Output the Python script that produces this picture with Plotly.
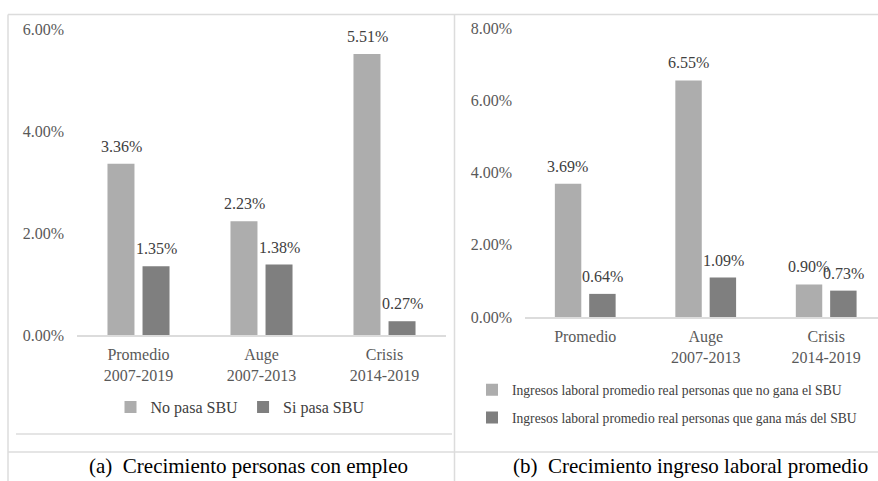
import plotly.graph_objects as go

# panel (a): crecimiento personas con empleo
CATS_A = ["Promedio<br>2007-2019", "Auge<br>2007-2013", "Crisis<br>2014-2019"]
NO_PASA = [3.36, 2.23, 5.51]
SI_PASA = [1.35, 1.38, 0.27]

# panel (b): crecimiento ingreso laboral promedio
CATS_B = ["Promedio", "Auge<br>2007-2013", "Crisis<br>2014-2019"]
NO_GANA = [3.69, 6.55, 0.90]
GANA_MAS = [0.64, 1.09, 0.73]

TICKS_A = [0, 2, 4, 6]
TICKS_B = [0, 2, 4, 6, 8]

LIGHT = "#ADADAD"
DARK = "#7F7F7F"
LINE = "#DCDCDC"
SERIF = "Liberation Serif, Times New Roman, serif"
W, H = 878, 481
BAR_SHIFT = 17.5  # px from category centre to each bar's centre


def px(x):
    return x / W


def py(y):
    return 1 - y / H


def bar(x, y, color, name, xa, ya, legend, group):
    return go.Bar(
        x=x, y=y, name=name, marker=dict(color=color, line=dict(width=0)),
        xaxis=xa, yaxis=ya, legend=legend, legendgroup=group,
        hovertemplate="%{y:.2f}%<extra></extra>",
    )


fig = go.Figure()
fig.add_trace(bar(CATS_A, NO_PASA, LIGHT, "No pasa SBU", "x", "y", "legend", "a1"))
fig.add_trace(bar(CATS_A, SI_PASA, DARK, "Si pasa SBU", "x", "y", "legend", "a2"))
fig.add_trace(bar(CATS_B, NO_GANA, LIGHT,
                  "Ingresos laboral promedio real personas que no gana el SBU",
                  "x2", "y2", "legend2", "b1"))
fig.add_trace(bar(CATS_B, GANA_MAS, DARK,
                  "Ingresos laboral promedio real personas que gana más del SBU",
                  "x2", "y2", "legend2", "b2"))

# value labels sit a little higher above the bars than plotly's own outside text
for cats, light, dark, xr, yr in ((CATS_A, NO_PASA, SI_PASA, "x", "y"),
                                  (CATS_B, NO_GANA, GANA_MAS, "x2", "y2")):
    for vals, shift in ((light, -BAR_SHIFT), (dark, BAR_SHIFT)):
        for c, v in zip(cats, vals):
            fig.add_annotation(x=c, y=v, xref=xr, yref=yr, text=f"{v:.2f}%",
                               showarrow=False, xshift=shift, yshift=7,
                               yanchor="bottom",
                               font=dict(family=SERIF, size=16, color="#404040"))

tickfont = dict(family=SERIF, size=16, color="#595959")
xcommon = dict(showline=True, linecolor=LINE, linewidth=1.5, ticks="",
               tickfont=tickfont, showgrid=False, zeroline=False,
               ticklabelstandoff=4, fixedrange=True)
ycommon = dict(showline=False, showgrid=False, zeroline=False,
               tickfont=tickfont, ticklabelstandoff=12, fixedrange=True)

fig.update_layout(
    width=W, height=H,
    margin=dict(l=0, r=0, t=0, b=0, autoexpand=False),
    paper_bgcolor="white", plot_bgcolor="white",
    font=dict(family=SERIF, color="#404040"),
    barmode="group", bargap=0.43, bargroupgap=0.23,
    xaxis=dict(domain=[px(77), px(446)], range=[-0.5, 2.5], **xcommon),
    yaxis=dict(domain=[py(335), py(29)], range=[0, 6], tickvals=TICKS_A,
               ticktext=[f"{v:.2f}%" for v in TICKS_A], anchor="x",
               **ycommon),
    xaxis2=dict(domain=[px(525), 1.0], range=[-0.5, 2.43], anchor="y2",
                **xcommon),
    yaxis2=dict(domain=[py(317), py(28)], range=[0, 8], tickvals=TICKS_B,
                ticktext=[f"{v:.2f}%" for v in TICKS_B], anchor="x2",
                **ycommon),
    legend=dict(orientation="h", x=px(240), xanchor="center",
                y=py(407), yanchor="middle",
                font=dict(family=SERIF, size=16, color="#404040"),
                bgcolor="rgba(0,0,0,0)", itemwidth=30),
    legend2=dict(orientation="v", x=px(472), xanchor="left",
                 y=py(404), yanchor="middle", tracegroupgap=7,
                 font=dict(family=SERIF, size=13.6, color="#404040"),
                 bgcolor="rgba(0,0,0,0)", itemwidth=30),
    showlegend=True,
)

# panel frames
frame = [
    (px(8), py(14.5), 1.0, py(14.5)),
    (px(8), py(14.5), px(8), 0.0),
    (px(454.5), py(14.5), px(454.5), 0.0),
    (px(16), py(434), px(452), py(434)),
    (px(8), py(452), 1.0, py(452)),
]
for x0, y0, x1, y1 in frame:
    fig.add_shape(type="line", xref="paper", yref="paper",
                  x0=x0, y0=y0, x1=x1, y1=y1,
                  line=dict(color=LINE, width=1.5))

for text, xc in (("(a)\u00a0 Crecimiento personas con empleo", 248),
                 ("(b)\u00a0 Crecimiento ingreso laboral promedio", 690)):
    fig.add_annotation(x=px(xc), y=py(466), xref="paper", yref="paper",
                       text=text, showarrow=False, xanchor="center",
                       yanchor="middle",
                       font=dict(family=SERIF, size=21, color="black"))

# the page's default body margin would push the figure 8px in
fig.write_html("out.html", config={"displayModeBar": False},
               post_script="document.body.style.margin='0';")
